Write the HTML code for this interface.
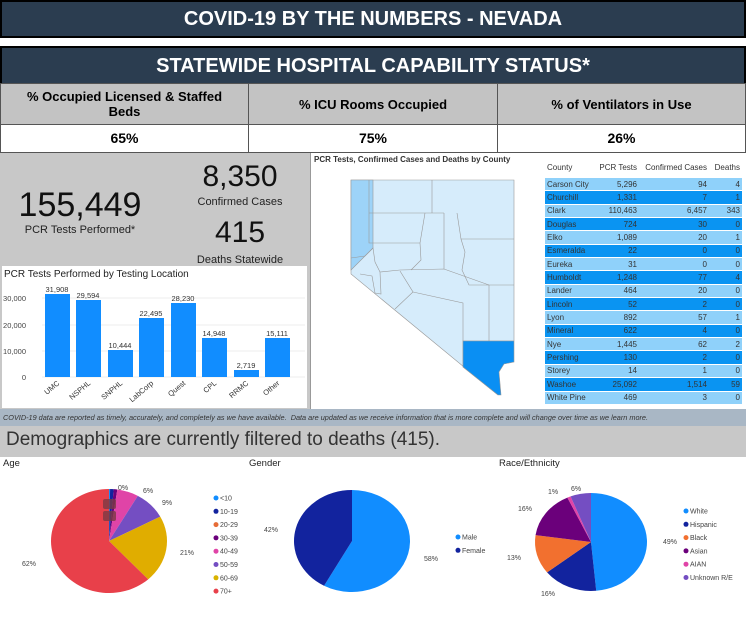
<!DOCTYPE html>
<html><head><meta charset="utf-8"><style>
*{margin:0;padding:0;box-sizing:border-box}
body{width:746px;height:617px;overflow:hidden;background:#fff;position:relative;font-family:"Liberation Sans",sans-serif}
.a{position:absolute}
.bar{background:#2b3d50;color:#fff;font-weight:bold;text-align:center;border:2px solid #000}
.cell{border:1px solid #555;text-align:center;font-weight:bold;font-size:13px;display:flex;align-items:center;justify-content:center;line-height:15px}
</style></head><body>
<div class="a bar" style="left:0;top:0;width:746px;height:38px;font-size:20px;line-height:34px">COVID-19 BY THE NUMBERS - NEVADA</div>
<div class="a bar" style="left:0;top:46px;width:746px;height:38px;font-size:20px;line-height:36px;border-bottom:none">STATEWIDE HOSPITAL CAPABILITY STATUS*</div>
<div class="a cell" style="left:0;top:83px;width:249px;height:42px;background:#c3c3c3">% Occupied Licensed &amp; Staffed<br>Beds</div>
<div class="a cell" style="left:248px;top:83px;width:250px;height:42px;background:#c3c3c3">% ICU Rooms Occupied</div>
<div class="a cell" style="left:497px;top:83px;width:249px;height:42px;background:#c3c3c3">% of Ventilators in Use</div>
<div class="a cell" style="left:0;top:124px;width:249px;height:29px;font-size:14px">65%</div>
<div class="a cell" style="left:248px;top:124px;width:250px;height:29px;font-size:14px">75%</div>
<div class="a cell" style="left:497px;top:124px;width:249px;height:29px;font-size:14px">26%</div>

<div class="a" style="left:0;top:153px;width:310px;height:257px;background:#c8c8c8"></div>
<div class="a" style="left:310px;top:153px;width:436px;height:257px;background:#fff;border-left:1px solid #999"></div>
<div class="a" style="left:0;top:186px;width:160px;text-align:center;font-size:34px;color:#111">155,449</div>
<div class="a" style="left:0;top:224px;width:160px;text-align:center;font-size:11px;color:#222">PCR Tests Performed*</div>
<div class="a" style="left:185px;top:160px;width:110px;text-align:center;font-size:30px;color:#111">8,350</div>
<div class="a" style="left:185px;top:196px;width:110px;text-align:center;font-size:11px;color:#222">Confirmed Cases</div>
<div class="a" style="left:185px;top:216px;width:110px;text-align:center;font-size:30px;color:#111">415</div>
<div class="a" style="left:185px;top:254px;width:110px;text-align:center;font-size:11px;color:#222">Deaths Statewide</div>

<svg class="a" style="left:2px;top:266px" width="305" height="142" font-family="Liberation Sans,sans-serif">
<rect width="305" height="142" fill="#fff"/>
<text x="2" y="11" font-size="10" fill="#222">PCR Tests Performed by Testing Location</text>
<g font-size="7.5" fill="#444" text-anchor="end">
<text x="24" y="35">30,000</text><text x="24" y="62">20,000</text><text x="24" y="88">10,000</text><text x="24" y="114">0</text></g>
<g stroke="#eee"><line x1="40" x2="303" y1="32" y2="32"/><line x1="40" x2="303" y1="59" y2="59"/><line x1="40" x2="303" y1="85" y2="85"/><line x1="40" x2="303" y1="111" y2="111"/></g>
<g fill="#118dff">
<rect x="43" y="28" width="25" height="83"/>
<rect x="74" y="34" width="25" height="77"/>
<rect x="106" y="84" width="25" height="27"/>
<rect x="137" y="52" width="25" height="59"/>
<rect x="169" y="37" width="25" height="74"/>
<rect x="200" y="72" width="25" height="39"/>
<rect x="232" y="104" width="25" height="7"/>
<rect x="263" y="72" width="25" height="39"/>
</g>
<g font-size="7.5" fill="#333" text-anchor="middle">
<text x="55" y="26">31,908</text><text x="86" y="32">29,594</text><text x="118" y="82">10,444</text><text x="149" y="50">22,495</text><text x="181" y="35">28,230</text><text x="212" y="70">14,948</text><text x="244" y="102">2,719</text><text x="275" y="70">15,111</text></g>
<g font-size="7.5" fill="#333" text-anchor="end">
<text transform="translate(58,118) rotate(-40)">UMC</text>
<text transform="translate(89,118) rotate(-40)">NSPHL</text>
<text transform="translate(121,118) rotate(-40)">SNPHL</text>
<text transform="translate(152,118) rotate(-40)">LabCorp</text>
<text transform="translate(184,118) rotate(-40)">Quest</text>
<text transform="translate(215,118) rotate(-40)">CPL</text>
<text transform="translate(247,118) rotate(-40)">RRMC</text>
<text transform="translate(278,118) rotate(-40)">Other</text></g>
</svg>

<div class="a" style="left:314px;top:155px;font-size:8px;font-weight:bold;color:#333">PCR Tests, Confirmed Cases and Deaths by County</div>
<svg class="a" style="left:340px;top:170px" width="190" height="235">
<g transform="translate(-340,-170)" stroke="#999" stroke-width="0.6" fill="#d6ecfb">
<path d="M351,180 L514,180 L514,341 L463,341 L463,367 L498,395 L351,274 Z"/>
<path d="M351,180 L373,180 L373,248 L363,258 L351,270 Z" fill="#9dd3f8"/>
<path d="M463,341 L514,341 L514,362 L504,364 L499,372 L501,395 L498,395 L463,367 Z" fill="#0a8ff3"/>
<g fill="none">
<path d="M369,180 V243 L420,243"/>
<path d="M369,213 H444 M432,180 V213"/>
<path d="M425,213 L420,243 L421,260 L411,270"/>
<path d="M444,213 V269"/>
<path d="M457,213 L461,239 H514"/>
<path d="M461,239 L465,252 L462,270 L469,285 L489,285 H514"/>
<path d="M489,285 V341"/>
<path d="M380,272 L400,270 L444,269 L489,285"/>
<path d="M400,271 L413,292 L395,309"/>
<path d="M413,292 L463,303 L463,341"/>
<path d="M351,258 L365,256 L373,248 L375,262 L380,272"/>
<path d="M360,274 L372,276 L375,293 L381,294 L380,272"/>
</g>
</g></svg>

<div class="a" style="left:545px;top:155px;width:197px;height:252px;font-size:8px;color:#333">
<div style="display:flex;height:23px;align-items:center;padding-top:2px">
<span style="width:48px;padding-left:2px">County</span><span style="width:44px;text-align:right">PCR Tests</span><span style="width:70px;text-align:right">Confirmed Cases</span><span style="width:33px;text-align:right">Deaths</span></div>
<div id="tb"></div>
</div>

<div class="a" style="left:0;top:409px;width:746px;height:17px;background:#a9b7c5;font-size:7.3px;font-style:italic;color:#333;padding:4px 0 0 3px;white-space:nowrap">COVID-19 data are reported as timely, accurately, and completely as we have available.&nbsp; Data are updated as we receive information that is more complete and will change over time as we learn more.</div>
<div class="a" style="left:0;top:426px;width:746px;height:31px;background:#c8c8c8;font-size:19px;color:#333;padding:3px 0 0 6px">Demographics are currently filtered to deaths (415).</div>
<div class="a" style="left:3px;top:458px;font-size:9.5px;color:#222">Age</div>
<div class="a" style="left:249px;top:458px;font-size:9.5px;color:#222">Gender</div>
<div class="a" style="left:499px;top:458px;font-size:9.5px;color:#222">Race/Ethnicity</div>
<svg class="a" id="pies" style="left:0;top:0" width="746" height="617" font-family="Liberation Sans,sans-serif" font-size="7" fill="#444"></svg>

<script>
var rows=[["Carson City","5,296","94","4"],["Churchill","1,331","7","1"],["Clark","110,463","6,457","343"],["Douglas","724","30","0"],["Elko","1,089","20","1"],["Esmeralda","22","0","0"],["Eureka","31","0","0"],["Humboldt","1,248","77","4"],["Lander","464","20","0"],["Lincoln","52","2","0"],["Lyon","892","57","1"],["Mineral","622","4","0"],["Nye","1,445","62","2"],["Pershing","130","2","0"],["Storey","14","1","0"],["Washoe","25,092","1,514","59"],["White Pine","469","3","0"]];
var h="";rows.forEach(function(r,i){var bg=i%2?"#0a94f2":"#8fd1fa";h+='<div style="display:flex;height:13.35px;align-items:center;background:'+bg+';border-bottom:1px solid #fff"><span style="width:48px;padding-left:2px">'+r[0]+'</span><span style="width:44px;text-align:right">'+r[1]+'</span><span style="width:70px;text-align:right">'+r[2]+'</span><span style="width:33px;text-align:right">'+r[3]+'</span></div>'});
document.getElementById("tb").innerHTML=h;
var s="";
function pie(cx,cy,rx,ry,vals,cols){var tot=vals.reduce(function(a,b){return a+b},0),a=0;vals.forEach(function(v,i){if(v<=0)return;var a1=a+v/tot*2*Math.PI;var x0=cx+rx*Math.sin(a),y0=cy-ry*Math.cos(a),x1=cx+rx*Math.sin(a1),y1=cy-ry*Math.cos(a1);s+='<path d="M'+cx+','+cy+' L'+x0+','+y0+' A'+rx+','+ry+' 0 '+(a1-a>Math.PI?1:0)+' 1 '+x1+','+y1+' Z" fill="'+cols[i]+'"/>';a=a1});}
pie(109,541,58,52,[0.3,1,0,1,6,9,21,62],["#118dff","#12239e","#e66c37","#6b007b","#e044a7","#744ec2","#e0ad00","#e8404a"]);
pie(352,541,58,51,[58,42],["#118dff","#12239e"]);
pie(591,542,56,49,[49,16,13,16,1,6],["#118dff","#12239e","#f2702f","#6b007b","#e044a7","#744ec2"]);
function leg(x,y,items,cols){items.forEach(function(t,i){s+='<circle cx="'+x+'" cy="'+(y+i*13.3)+'" r="2.5" fill="'+cols[i]+'"/><text x="'+(x+4)+'" y="'+(y+i*13.3+2.5)+'">'+t+'</text>'})}
leg(216,498,["&lt;10","10-19","20-29","30-39","40-49","50-59","60-69","70+"],["#118dff","#12239e","#e66c37","#6b007b","#e044a7","#744ec2","#d9b300","#e8404a"]);
leg(458,537,["Male","Female"],["#118dff","#12239e"]);
leg(686,511,["White","Hispanic","Black","Asian","AIAN","Unknown R/E"],["#118dff","#12239e","#f2702f","#6b007b","#e044a7","#744ec2"]);
var L=[[118,490,"0%"],[143,493,"6%"],[162,505,"9%"],[180,555,"21%"],[22,566,"62%"],[264,532,"42%"],[424,561,"58%"],[548,494,"1%"],[571,491,"6%"],[518,511,"16%"],[663,544,"49%"],[507,560,"13%"],[541,596,"16%"]];
L.forEach(function(l){s+='<text x="'+l[0]+'" y="'+l[1]+'">'+l[2]+'</text>'});
s+='<rect x="103" y="499" width="13" height="10" rx="2" fill="#7a3a44" opacity="0.8"/><rect x="103" y="511" width="13" height="10" rx="2" fill="#7a3a44" opacity="0.8"/>';
document.getElementById("pies").innerHTML=s;
</script>
</body></html>
